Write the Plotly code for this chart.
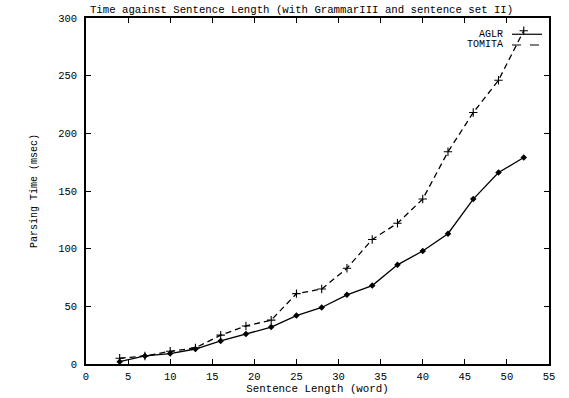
import plotly.graph_objects as go

sentence_length = [4, 7, 10, 13, 16, 19, 22, 25, 28, 31, 34, 37, 40, 43, 46, 49, 52]
aglr_time = [2, 7, 9, 13, 20, 26, 32, 42, 49, 60, 68, 86, 98, 113, 143, 166, 179]
tomita_time = [5, 7, 11, 14, 25, 33, 38, 61, 65, 83, 108, 122, 143, 184, 218, 246, 289]
series_names = ["AGLR", "TOMITA"]
x_ticks = list(range(0, 56, 5))
y_ticks = list(range(0, 301, 50))

FONT = "Liberation Mono, Courier New, monospace"

fig = go.Figure()
fig.add_trace(go.Scatter(
    x=sentence_length, y=aglr_time, name=series_names[0], mode="lines+markers",
    line=dict(color="black", width=1.3, dash="solid"),
    marker=dict(symbol="diamond", size=5, color="black"),
    showlegend=False,
))
fig.add_trace(go.Scatter(
    x=sentence_length, y=tomita_time, name=series_names[1], mode="lines+markers",
    line=dict(color="black", width=1.3, dash="6px,4px"),
    marker=dict(symbol="cross-thin", size=6, line=dict(color="black", width=1.1)),
    showlegend=False,
))

axis_common = dict(
    showline=True, linecolor="black", linewidth=1.5, mirror="allticks",
    ticks="inside", ticklen=5, tickcolor="black", tickwidth=1.2,
    showgrid=False, zeroline=False, automargin=False,
    tickfont=dict(family=FONT, size=10.5, color="black"),
)

fig.update_xaxes(range=[0, 55], tickvals=x_ticks, ticklabelstandoff=2, **axis_common,
                 title=dict(text="Sentence Length (word)", font=dict(family=FONT, size=10.8, color="black"), standoff=0))
fig.update_yaxes(range=[0, 300], tickvals=y_ticks, ticklabelstandoff=5, **axis_common,
                 title=dict(text="Parsing Time (msec)", font=dict(family=FONT, size=10, color="black"), standoff=19))

# gnuplot-style legend (text right, sample to the right)
legend_rows = [(0.953, series_names[0], "solid"), (0.922, series_names[1], "dash")]
for yy, name, dash in legend_rows:
    fig.add_annotation(x=0.905, y=yy, xref="paper", yref="paper", text=name, showarrow=False,
                       xanchor="right", yanchor="middle", font=dict(family=FONT, size=10, color="black"))
    fig.add_shape(type="line", xref="paper", yref="paper", x0=0.92, x1=0.985, y0=yy, y1=yy,
                  line=dict(color="black", width=1.2, dash=dash))

fig.update_layout(
    width=569, height=398,
    margin=dict(l=86, r=20, t=18, b=34),
    paper_bgcolor="white", plot_bgcolor="white",
    title=dict(text="Time against Sentence Length (with GrammarIII and sentence set II)",
               x=0.53, xanchor="center", y=0.985, yanchor="top",
               font=dict(family=FONT, size=10.7, color="black")),
    font=dict(family=FONT, color="black"),
)

fig.write_html("out.html")
